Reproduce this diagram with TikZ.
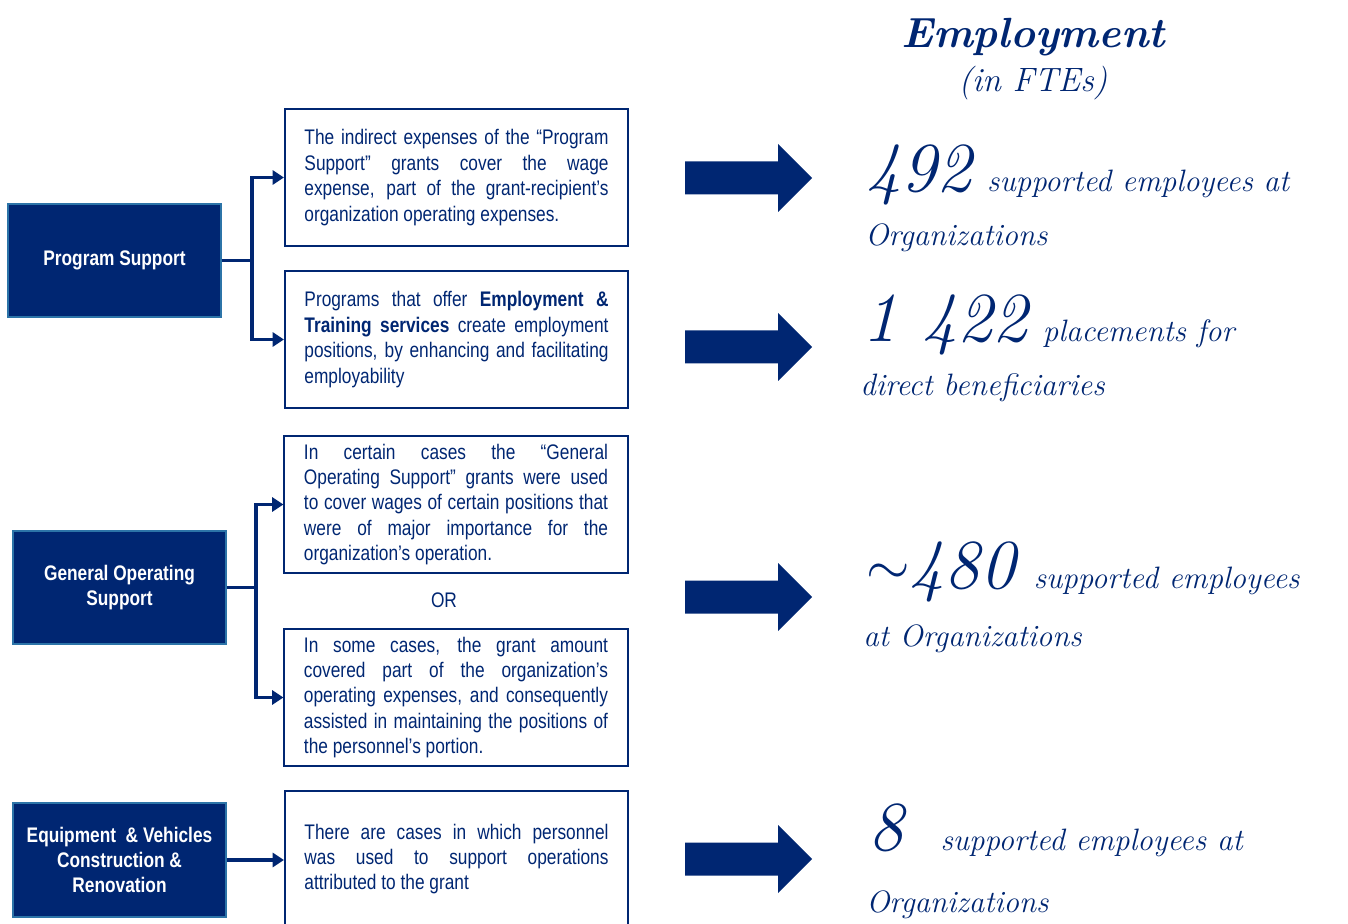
\documentclass[tikz,border=0pt]{standalone}
\usepackage{fontspec}
\newfontfamily\narrow{Liberation Sans}[FakeStretch=0.82]
\usetikzlibrary{arrows.meta, positioning, calc}
\definecolor{navy}{HTML}{002672}
\definecolor{steelrim}{HTML}{2C74A8}
\newcommand{\bignum}{\fontsize{50}{50}\selectfont}

\tikzset{
  fundbox/.style={fill=navy, draw=steelrim, line width=1pt, text=white,
    font=\narrow\bfseries\fontsize{15}{17.8}\selectfont, align=center,
    minimum width=5.325cm, minimum height=2.825cm},
  notebox/.style={draw=navy, line width=1.3pt, text=navy,
    font=\narrow\fontsize{15}{18.1}\selectfont, align=justify,
    text width=7.6cm, inner xsep=0.49cm, minimum height=3.425cm},
  feed/.style={draw=navy, line width=2.2pt, -{Triangle[length=8pt, width=10pt]}},
  hand/.style={text=navy, font=\itshape\fontsize{22}{22}\selectfont, inner sep=0pt}
}

\begin{document}
\begin{tikzpicture}[x=0.025cm, y=-0.025cm]
\useasboundingbox (0,0) rectangle (1348,924);

% Funding types
\node[fundbox] (ps)  at (114.5,260.5) {Program Support};
\node[fundbox] (gos) at (119.5,587.5) {General Operating\\Support};
\node[fundbox, minimum height=2.85cm] (eq) at (119.5,860) {Equipment\ \ \& Vehicles\\Construction \&\\Renovation};

% Explanations
\node[notebox] (a1) at (456.5,177.5) {The indirect expenses of the “Program\linebreak Support” grants cover the wage\linebreak expense, part of the grant-recipient’s\linebreak organization operating expenses.};
\node[notebox] (a2) at (456.5,339.5) {Programs that offer \textbf{Employment \&\linebreak Training services} create employment\linebreak positions, by enhancing and facilitating\linebreak employability};
\node[notebox] (b1) at (456,504.5) {In certain cases the “General\linebreak Operating Support” grants were used\linebreak to cover wages of certain positions that\linebreak were of major importance for the\linebreak organization’s operation.};
\node[text=navy, font=\narrow\fontsize{15}{18.1}\selectfont] (or) at (444,600) {OR};
\node[notebox] (b2) at (456,697.5) {In some cases, the grant amount\linebreak covered part of the organization’s\linebreak operating expenses, and consequently\linebreak assisted in maintaining the positions of\linebreak the personnel’s portion.};
\node[notebox, minimum height=3.4cm] (c1) at (456.5,859) {There are cases in which personnel\linebreak was used to support operations\linebreak attributed to the grant};

% Connectors
\coordinate (psj) at (252,260.5);
\draw[navy, line width=2.2pt] (ps.east) -- (psj);
\draw[feed] (psj) |- (a1.west);
\draw[feed] (psj) |- (a2.west);
\coordinate (gosj) at (256,587.5);
\draw[navy, line width=2.2pt] (gos.east) -- (gosj);
\draw[feed] (gosj) |- (b1.west);
\draw[feed] (gosj) |- (b2.west);
\draw[feed] (eq.east) -- (eq.east -| c1.west);

% Block arrows
\foreach \y in {178,347,597,859}
  \fill[navy] (685,\y-16.5) -- (778,\y-16.5) -- (778,\y-34) -- (812,\y)
    -- (778,\y+34) -- (778,\y+16.5) -- (685,\y+16.5) -- cycle;

% Employment figures
\node[hand, font=\bfseries\itshape\fontsize{30}{30}\selectfont, anchor=base] (title) at (1033,48) {Employment};
\node[hand, font=\itshape\fontsize{24}{24}\selectfont, anchor=base] (fte) at (1033,92) {(in FTEs)};

\node[hand, anchor=base west] (f1) at (866,192) {{\bignum 492}\hspace{0.5em}supported employees at};
\node[hand, anchor=base west] (f1b) at (865,246) {Organizations};
\node[hand, anchor=base west] (f2) at (862,342) {{\bignum 1 422}\hspace{0.5em}placements for};
\node[hand, anchor=base west] (f2b) at (860,396) {direct beneficiaries};
\node[hand, anchor=base west] (f3) at (866,588) {{\bignum\raisebox{0.05em}{\scalebox{1.6}{$\sim$}}480}\hspace{0.6em}supported employees};
\node[hand, anchor=base west] (f3b) at (863,646) {at Organizations};
\node[hand, anchor=base west] (f4) at (868,850) {{\bignum 8}\hspace{1.2em}supported employees at};
\node[hand, anchor=base west] (f4b) at (866,912) {Organizations};

\end{tikzpicture}
\end{document}
